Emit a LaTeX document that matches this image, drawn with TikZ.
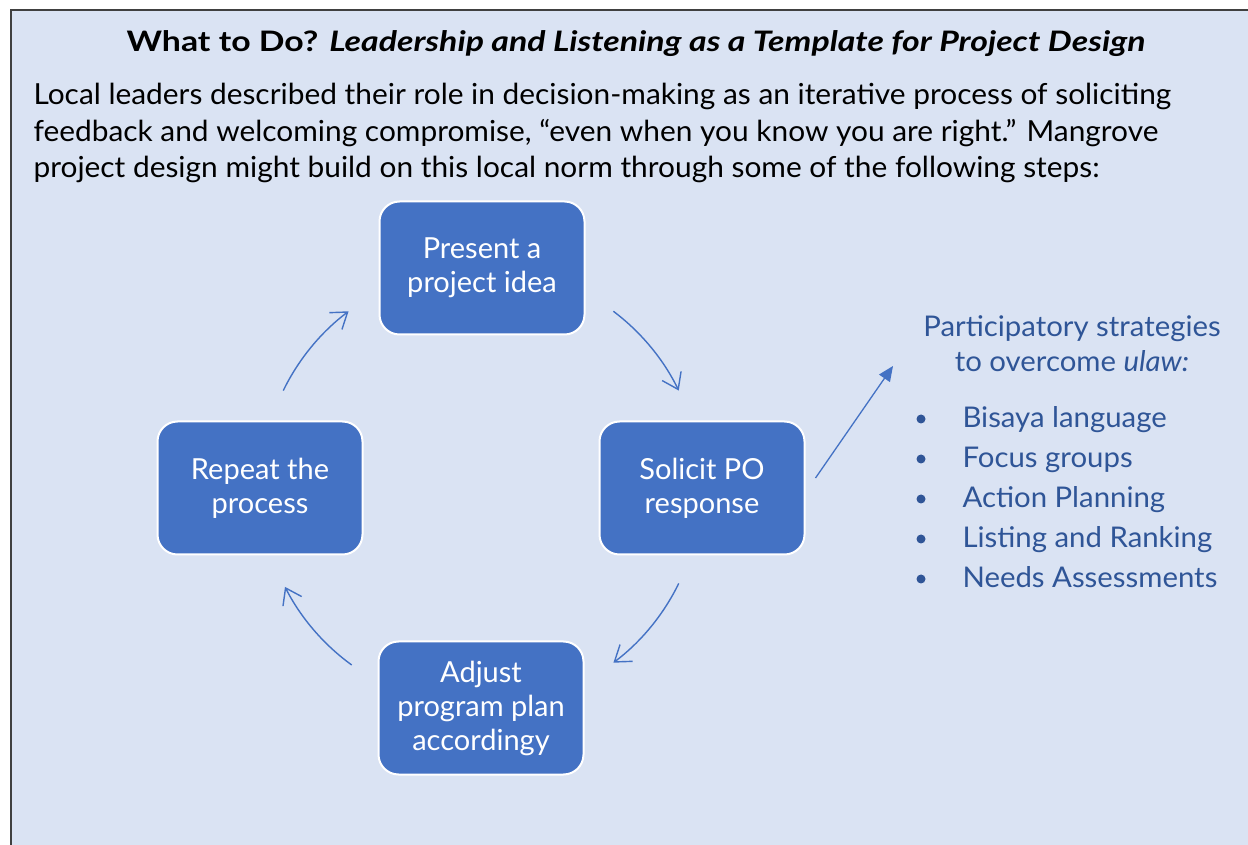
\documentclass[tikz,border=0pt]{standalone}
\usepackage{fontspec}
\setmainfont{Lato}
\newfontfamily\headfont[FakeStretch=1.2]{Lato}
\newfontfamily\bodyfont[FakeStretch=1.03]{Lato}
\usepackage{tikz}
\usetikzlibrary{positioning, arrows.meta}
\definecolor{panel}{HTML}{DAE3F3}
\definecolor{boxblue}{HTML}{4472C4}
\definecolor{listblue}{HTML}{2F5597}
\definecolor{framegray}{HTML}{404040}
\tikzstyle{stepbox} = [rectangle, rounded corners=20pt, fill=boxblue, draw=white, line width=2pt, minimum width=205pt, minimum height=133pt, align=center, text=white, font=\fontsize{29}{34}\selectfont]
\tikzstyle{cyclearrow} = [boxblue, line width=1.4pt, -{Straight Barb[length=15pt,width=21pt]}]
\tikzstyle{arrow} = [boxblue, line width=1.3pt, -{Triangle[length=15pt,width=13pt]}]

\begin{document}
\begin{tikzpicture}[x=1pt, y=1pt]
  \useasboundingbox (0,0) rectangle (1248,844);
  % Panel
  \begin{scope}
    \clip (0,0) rectangle (1248,844);
    \fill[panel] (11,-20) rectangle (1270,834);
    \draw[framegray, line width=2.5pt] (11,-20) -- (11,834) -- (1270,834);
  \end{scope}

  % Heading and intro text
  \node[anchor=base, font=\fontsize{28.2}{34}\headfont\bfseries] (title) at (636,792)
    {What to Do? \textit{Leadership and Listening as a Template for Project Design}};
  \node[anchor=base west, align=left, font=\fontsize{29}{36.5}\bodyfont] (intro) at (30,666)
    {Local leaders described their role in decision-making as an iterative process of soliciting\\
     feedback and welcoming compromise, “even when you know you are right.” Mangrove\\
     project design might build on this local norm through some of the following steps:};

  % The cycle
  \coordinate (hub) at (481,357);
  \node[stepbox] (present) at (482,576) {Present a\\project idea};
  \node[stepbox] (solicit) at (702,356) {Solicit PO\\response};
  \node[stepbox] (adjust) at (481,136) {Adjust\\program plan\\accordingy};
  \node[stepbox] (repeat) at (260,356) {Repeat the\\process};

  % Arrows round the cycle
  \foreach \a in {154, 53, -26, -126}
    \draw[cyclearrow] (hub) ++(\a:220) arc[start angle=\a, end angle=\a-27, radius=220];

  % Strategies
  \coordinate (stratpoint) at (893,478);
  \draw[arrow] ([shift={(10,10)}]solicit.east) -- (stratpoint);
  \node[anchor=base, align=center, text=listblue, font=\fontsize{28.5}{35}\bodyfont] (strategies) at (1072,472)
    {Participatory strategies\\to overcome \textit{ulaw:}};
  \foreach \entry [count=\i from 0] in {Bisaya language, Focus groups, Action Planning, Listing and Ranking, Needs Assessments} {
    \fill[listblue] (921,425-40*\i) circle (4.5);
    \node[anchor=base west, text=listblue, font=\fontsize{28.5}{35}\bodyfont] (item\i) at (959,416-40*\i) {\entry};
  }
\end{tikzpicture}
\end{document}
